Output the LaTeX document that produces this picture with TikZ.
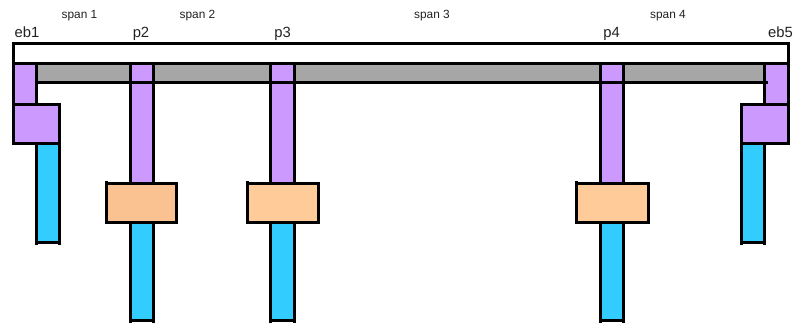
\documentclass[tikz,border=0pt]{standalone}
\usepackage{fontspec}
\setmainfont{Liberation Sans}
\definecolor{purp}{HTML}{CC99FF}
\definecolor{sky}{HTML}{33CCFF}
\definecolor{peach}{HTML}{FFCC99}
\definecolor{peachd}{HTML}{FAC191}
\definecolor{beam}{HTML}{A6A6A6}
\definecolor{ink}{HTML}{222222}
\tikzset{
  part/.style={draw=black,line width=2.25pt,inner sep=0pt,outer sep=0pt,anchor=center,line join=miter},
  edge/.style={draw=black,line width=2.25pt},
  bigtext/.style={font=\fontsize{11.1pt}{12pt}\selectfont,text=ink,anchor=base,inner sep=0pt},
  smalltext/.style={font=\fontsize{8.9pt}{10pt}\selectfont,text=ink,anchor=base,inner sep=0pt}
}
\newcommand{\partbox}[6]{%
  \pgfmathsetmacro{\cxx}{(#3+#5)/2}\pgfmathsetmacro{\cyy}{(#4+#6)/2}%
  \pgfmathsetmacro{\wdd}{(#5-#3)*0.75}\pgfmathsetmacro{\htt}{(#6-#4)*0.75}%
  \node[part,fill=#2,minimum width=\wdd pt,minimum height=\htt pt] (#1) at (\cxx,\cyy) {};}
\begin{document}
\begin{tikzpicture}[x=0.75pt,y=-0.75pt]
\useasboundingbox (0,0) rectangle (796,324);
\fill[white] (0,0) rectangle (796,324);
\partbox{slab}{white}{13}{44}{788.3}{63.5}
\partbox{gray}{beam}{13}{63.5}{788.3}{83}
% blue columns
\partbox{b1}{sky}{36}{143.5}{59.3}{242.3}
\partbox{b2}{sky}{130}{222.3}{153.3}{320.3}
\partbox{b3}{sky}{270.5}{222.3}{294}{320.3}
\partbox{b4}{sky}{600.5}{222.3}{623.7}{320.3}
\partbox{b5}{sky}{741.7}{143.5}{764.5}{242.3}
% purple columns
\partbox{c1}{purp}{13}{63.5}{36}{104.5}
\partbox{c2}{purp}{130}{63.5}{153.3}{183.3}
\partbox{c3}{purp}{270.5}{63.5}{294}{183.3}
\partbox{c4}{purp}{600.5}{63.5}{623.7}{183.3}
\partbox{c5}{purp}{764.5}{63.5}{788.3}{104.5}
% beam lower edge, running across the inner columns
\draw[edge,shorten >=-2.5pt] (c1.east |- gray.south) -- (c5.west |- gray.south);
% caps
\partbox{k1}{purp}{13}{104.5}{59.3}{143.5}
\partbox{k2}{peachd}{106.3}{183.3}{176.7}{222.3}
\partbox{k3}{peach}{247.3}{183.3}{318}{222.3}
\partbox{k4}{peach}{576.3}{183.3}{648}{222.3}
\partbox{k5}{purp}{741.5}{104.5}{788.3}{143.5}
% small line overruns at corners
\foreach \n in {b1,b2,b3,b4,b5}{
  \draw[edge] (\n.south west) -- ++(0,2.4);
  \draw[edge] (\n.south east) -- ++(0,2.4);
}
\foreach \n in {k2,k3,k4}{
  \draw[edge] (\n.north west) -- ++(0,-2.4);
}
% labels
\node[bigtext] (t1) at (27,37.3) {eb1};
\node[bigtext] (t2) at (141,37.3) {p2};
\node[bigtext] (t3) at (282.5,37.3) {p3};
\node[bigtext] (t4) at (611.7,37.3) {p4};
\node[bigtext] (t5) at (780.5,37.3) {eb5};
\node[smalltext] (s1) at (79.5,18.3) {span 1};
\node[smalltext] (s2) at (197.5,18.3) {span 2};
\node[smalltext] (s3) at (432,18.3) {span 3};
\node[smalltext] (s4) at (668,18.3) {span 4};
\end{tikzpicture}
\end{document}
